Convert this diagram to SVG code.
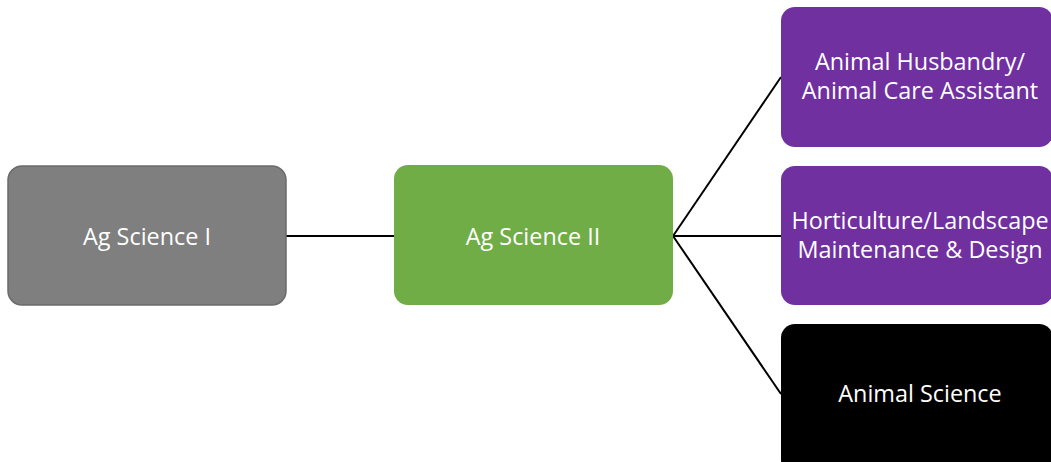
<svg xmlns="http://www.w3.org/2000/svg" width="1051" height="462" viewBox="0 0 1051 462">
<style>
.t{font-family:"Open Sans","Liberation Sans",sans-serif;font-size:23.4px;fill:#fff;text-anchor:middle}
.c{stroke:#000;stroke-width:2;fill:none}
</style>
<rect width="1051" height="462" fill="#fff"/>
<g id="connectors">
<line class="c" x1="286" y1="236" x2="394" y2="236"/>
<line class="c" x1="673" y1="236" x2="781" y2="77"/>
<line class="c" x1="673" y1="236" x2="781" y2="236"/>
<line class="c" x1="673" y1="236" x2="781" y2="394"/>
</g>
<g id="ag1">
<rect x="8" y="166" width="278" height="139" rx="14" fill="#7f7f7f" stroke="#6b6b6b" stroke-width="1.5"/>
<text class="t" x="147" y="245">Ag Science I</text>
</g>
<g id="ag2">
<rect x="394" y="165" width="279" height="140" rx="14" fill="#70ad47"/>
<text class="t" x="533" y="245">Ag Science II</text>
</g>
<g id="husbandry">
<rect x="781" y="7" width="272" height="140" rx="14" fill="#7030a0"/>
<text class="t" x="920" y="70">Animal Husbandry/</text>
<text class="t" x="920" y="99">Animal Care Assistant</text>
</g>
<g id="horticulture">
<rect x="781" y="166" width="272" height="139" rx="14" fill="#7030a0"/>
<text class="t" x="920" y="229">Horticulture/Landscape</text>
<text class="t" x="920" y="258">Maintenance &amp; Design</text>
</g>
<g id="animalscience">
<rect x="781" y="324" width="272" height="150" rx="14" fill="#000"/>
<text class="t" x="920" y="402">Animal Science</text>
</g>
</svg>
